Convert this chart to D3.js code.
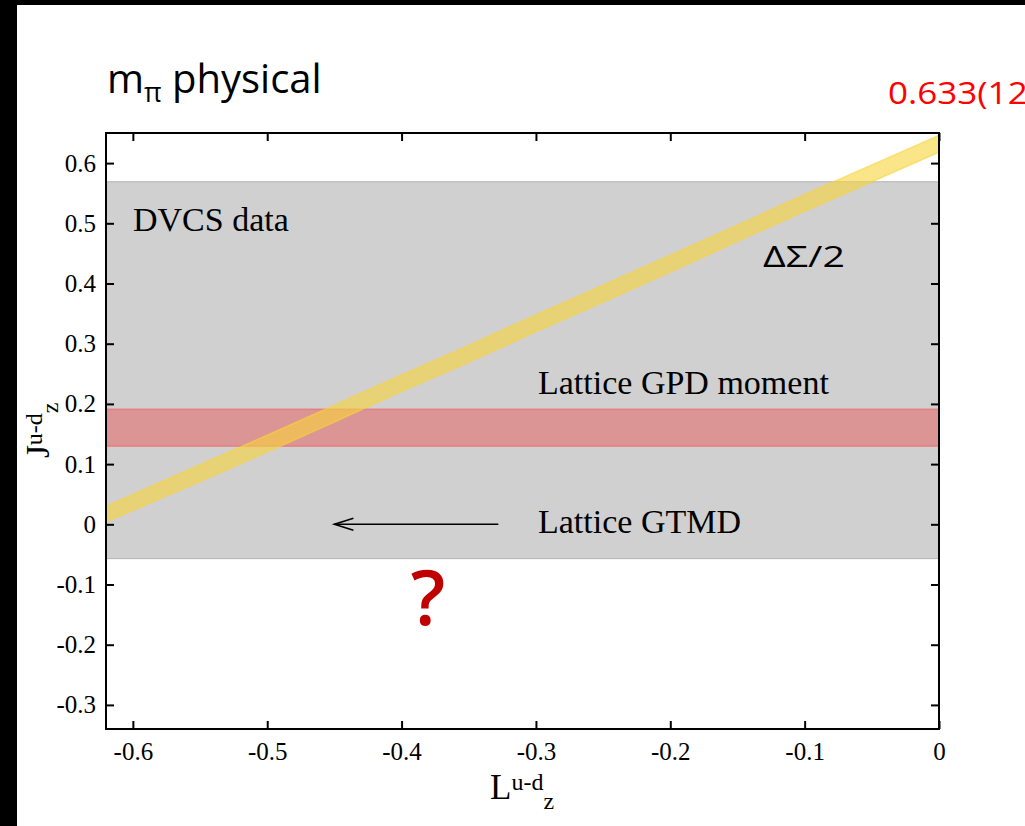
<!DOCTYPE html>
<html>
<head>
<meta charset="utf-8">
<script src="https://cdn.jsdelivr.net/npm/d3@7"></script>
<style>
  body { margin: 0; background: #000; }
  svg { display: block; }
</style>
</head>
<body>
<div id="chart_div"></div>
<script>
// values
var xTicks = [-0.6, -0.5, -0.4, -0.3, -0.2, -0.1, 0];
var yTicks = [-0.3, -0.2, -0.1, 0, 0.1, 0.2, 0.3, 0.4, 0.5, 0.6];
var dvcsBand = [-0.057, 0.569];
var gpdBand = [0.130, 0.191];
var spinL     = [-0.62, -0.55, -0.50, -0.45, -0.40, -0.35, -0.30, -0.25, -0.20, -0.15, -0.10, -0.05, 0.00];
var spinJLow  = [0.004, 0.071, 0.120, 0.170, 0.221, 0.269, 0.320, 0.369, 0.419, 0.470, 0.520, 0.569, 0.618];
var spinJHigh = [0.030, 0.099, 0.148, 0.198, 0.248, 0.297, 0.348, 0.397, 0.447, 0.497, 0.548, 0.597, 0.646];
var arrowFrom = [-0.328, 0];
var arrowTo   = [-0.450, 0];

const W = 1025, H = 826;
const pLeft = 106, pRight = 939, pTop = 133, pBottom = 729;
const serif = "'Liberation Serif', 'Times New Roman', serif";
const sans = "'Open Sans', 'Noto Sans', sans-serif";

var svg = d3.select('#chart_div').append('svg')
    .attr('width', W)
    .attr('height', H);

// white page with the black slide edge on top and left
svg.append('rect').attr('x', 0).attr('y', 0).attr('width', W).attr('height', H).attr('fill', '#000');
svg.append('rect').attr('x', 17).attr('y', 5).attr('width', W - 17).attr('height', H - 5).attr('fill', '#fff');

var xScale = d3.scaleLinear().domain([-0.62, 0]).range([pLeft, pRight]);
var yScale = d3.scaleLinear().domain([-0.34, 0.65]).range([pBottom, pTop]);

svg.append('clipPath').attr('id', 'plotclip')
  .append('rect')
  .attr('x', pLeft).attr('y', pTop)
  .attr('width', pRight - pLeft).attr('height', pBottom - pTop);

var plot = svg.append('g').attr('clip-path', 'url(#plotclip)');

// DVCS band
plot.append('rect')
  .attr('x', pLeft)
  .attr('width', pRight - pLeft)
  .attr('y', yScale(dvcsBand[1]))
  .attr('height', yScale(dvcsBand[0]) - yScale(dvcsBand[1]))
  .attr('fill', '#d0d0d0')
  .attr('stroke', '#b2b2b2')
  .attr('stroke-width', 1);

// lattice GPD band
plot.append('rect')
  .attr('x', pLeft)
  .attr('width', pRight - pLeft)
  .attr('y', yScale(gpdBand[1]))
  .attr('height', yScale(gpdBand[0]) - yScale(gpdBand[1]))
  .attr('fill', '#dc9595')
  .attr('stroke', '#e67f7f')
  .attr('stroke-width', 1.5);

// Delta Sigma / 2 line band
var spinData = spinL.map(function (d, i) {
  return { L: d, lo: spinJLow[i], hi: spinJHigh[i] };
});
var band = d3.area()
    .x(function (d) { return xScale(d.L); })
    .y0(function (d) { return yScale(d.lo); })
    .y1(function (d) { return yScale(d.hi); });

plot.append('path')
  .datum(spinData)
  .attr('d', band)
  .attr('fill', '#f8d43a')
  .attr('fill-opacity', 0.6)
  .attr('stroke', '#f8d43a')
  .attr('stroke-opacity', 0.6)
  .attr('stroke-width', 1.5);

// labels inside the plot
svg.append('text')
  .attr('x', 133).attr('y', 231)
  .style('font-family', serif).style('font-size', '34px')
  .text('DVCS data');

svg.append('text')
  .attr('x', 538).attr('y', 394)
  .style('font-family', serif).style('font-size', '34px')
  .text('Lattice GPD moment');

svg.append('text')
  .attr('x', 538).attr('y', 533)
  .style('font-family', serif).style('font-size', '34px')
  .text('Lattice GTMD');

svg.append('text')
  .attr('x', 763).attr('y', 267)
  .attr('textLength', 82).attr('lengthAdjust', 'spacingAndGlyphs')
  .style('font-family', sans).style('font-size', '30px')
  .text('ΔΣ/2');

// arrow
var ax1 = xScale(arrowFrom[0]), ay = yScale(arrowFrom[1]), ax2 = xScale(arrowTo[0]);
svg.append('line')
  .attr('x1', ax1).attr('y1', ay).attr('x2', ax2).attr('y2', ay)
  .attr('stroke', '#000').attr('stroke-width', 1.6);
svg.append('path')
  .attr('d', `M${ax2 + 19},${ay - 6} L${ax2},${ay} L${ax2 + 19},${ay + 6}`)
  .attr('fill', 'none').attr('stroke', '#000').attr('stroke-width', 1.6);

svg.append('text')
  .attr('x', 428).attr('y', 625)
  .attr('text-anchor', 'middle')
  .style('font-family', sans).style('font-size', '76px').style('font-weight', 600)
  .attr('fill', '#c00000')
  .text('?');

// axes, ticks pointing inward on all four sides
function fmt(d) { return d === 0 ? '0' : String(d); }

var gx = svg.append('g')
  .attr('transform', `translate(0, ${pBottom})`)
  .call(d3.axisBottom(xScale).tickValues(xTicks).tickSize(-8).tickPadding(13).tickFormat(fmt));
var gy = svg.append('g')
  .attr('transform', `translate(${pLeft}, 0)`)
  .call(d3.axisLeft(yScale).tickValues(yTicks).tickSize(-8).tickPadding(10).tickFormat(fmt));
var gt = svg.append('g')
  .attr('transform', `translate(0, ${pTop})`)
  .call(d3.axisTop(xScale).tickValues(xTicks).tickSize(-8).tickFormat(''));
var gr = svg.append('g')
  .attr('transform', `translate(${pRight}, 0)`)
  .call(d3.axisRight(yScale).tickValues(yTicks).tickSize(-8).tickFormat(''));

[gx, gy, gt, gr].forEach(function (g) {
  g.select('.domain').remove();
  g.selectAll('.tick line').attr('stroke', '#000').attr('stroke-width', 2);
  g.selectAll('.tick text')
    .attr('fill', '#000')
    .style('font-family', serif)
    .style('font-size', '25px');
});
gx.selectAll('.tick text').attr('dy', '0.71em');
gy.selectAll('.tick text').attr('dy', '0.32em');

svg.append('rect')
  .attr('x', pLeft).attr('y', pTop)
  .attr('width', pRight - pLeft).attr('height', pBottom - pTop)
  .attr('fill', 'none').attr('stroke', '#000').attr('stroke-width', 2);

// axis titles
var xl = svg.append('text')
  .attr('x', 490).attr('y', 799)
  .style('font-family', serif).style('font-size', '35px');
xl.append('tspan').text('L');
xl.append('tspan').attr('dy', -9).style('font-size', '24px').text('u-d');
xl.append('tspan').attr('dy', 19).style('font-size', '24px').text('z');

var yl = svg.append('text')
  .attr('transform', 'translate(49, 458) rotate(-90)')
  .style('font-family', serif).style('font-size', '33px');
yl.append('tspan').text('J');
yl.append('tspan').attr('dy', -7).style('font-size', '24px').text('u-d');
yl.append('tspan').attr('dy', 16).style('font-size', '24px').text('z');

// slide title and value
var tt = svg.append('text')
  .attr('x', 107).attr('y', 93)
  .style('font-family', sans).style('font-size', '40px');
tt.append('tspan').text('m');
tt.append('tspan').attr('dy', 9).style('font-size', '27px').text('π');
tt.append('tspan').attr('dy', -9).text(' physical');

svg.append('text')
  .attr('x', 888).attr('y', 104)
  .attr('textLength', 150).attr('lengthAdjust', 'spacingAndGlyphs')
  .style('font-family', sans).style('font-size', '31px')
  .attr('fill', '#ff0000')
  .text('0.633(12)');
</script>
</body>
</html>
